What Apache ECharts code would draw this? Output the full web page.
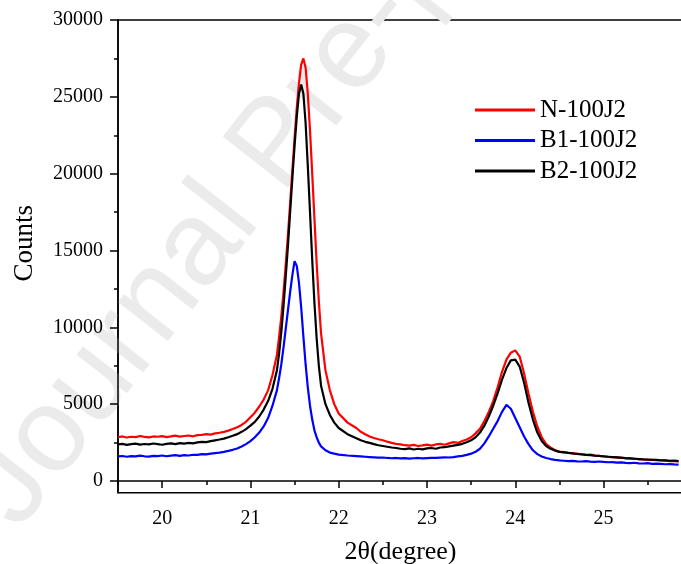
<!DOCTYPE html>
<html>
<head>
<meta charset="utf-8">
<script src="https://cdn.jsdelivr.net/npm/echarts@6/dist/echarts.min.js"></script>
<style>
html,body{margin:0;padding:0;background:#fff;}
#chart{width:681px;height:564px;}
</style>
</head>
<body>
<div id="chart"></div>
<script>
const twoTheta = [
19.5,19.55,19.6,19.65,19.7,19.75,19.8,19.85,19.9,19.95,20.0,20.05,20.1,20.15,20.2,20.25,20.3,20.35,20.4,20.45,20.5,20.55,20.6,20.65,20.7,20.75,20.8,20.85,20.9,20.95,
21.0,21.05,21.1,21.15,21.2,21.25,
21.3,21.325,21.35,21.375,21.4,21.425,21.45,21.475,21.5,21.525,21.55,21.575,21.6,21.625,21.65,21.675,21.7,21.725,21.75,21.775,21.8,
21.85,21.9,21.95,22.0,22.1,22.2,
22.25,22.3,22.35,22.4,22.45,22.5,22.55,22.6,22.65,22.7,22.75,22.8,22.85,22.9,22.95,23.0,23.05,23.1,23.15,23.2,23.25,23.3,23.35,23.4,23.45,23.5,
23.55,23.6,23.65,23.7,23.75,23.8,23.85,23.9,23.95,24.0,24.05,24.1,24.15,24.2,24.25,24.3,24.35,24.4,
24.45,24.5,24.55,24.6,24.65,24.7,24.75,24.8,24.85,24.9,24.95,25.0,25.05,25.1,25.15,25.2,25.25,25.3,25.35,25.4,25.45,25.5,25.55,25.6,25.65,25.7,25.75,25.8,25.85
];
const countsN = [
2850,2900,2830,2880,2860,2930,2870,2840,2900,2880,2920,2860,2900,2950,2890,2930,2960,2910,2990,3000,3050,3020,3100,3140,3200,3280,3380,3500,3650,3850,
4150,4450,4850,5300,5900,6900,
8200,9400,10700,12300,14100,16000,18100,20200,22300,24300,25900,27100,27500,26900,25200,22800,20000,17100,14200,11700,9600,
7200,5900,5000,4400,3800,3450,
3200,3050,2900,2800,2720,2650,2560,2480,2420,2380,2330,2300,2350,2280,2320,2370,2300,2380,2420,2360,2450,2530,2480,2600,2700,2850,
3100,3400,3900,4500,5200,6100,7100,7900,8350,8500,8100,7000,5700,4500,3550,2850,2400,2180,
2000,1920,1880,1840,1800,1780,1740,1700,1720,1660,1640,1610,1580,1560,1540,1500,1480,1470,1450,1420,1400,1380,1370,1360,1340,1330,1300,1290,1280
];
const countsB1 = [
1600,1630,1580,1620,1600,1650,1610,1590,1640,1620,1660,1610,1650,1680,1640,1690,1660,1710,1700,1750,1730,1780,1820,1850,1900,1960,2030,2120,2250,2400,
2600,2850,3150,3550,4100,4900,
5900,6700,7600,8700,9900,11100,12300,13400,14300,14000,12900,11300,9400,7600,6100,4900,4000,3300,2850,2500,2250,
2000,1850,1780,1720,1660,1620,
1600,1580,1560,1540,1520,1530,1500,1480,1500,1470,1490,1460,1480,1500,1470,1490,1510,1500,1520,1540,1530,1560,1600,1640,1700,1780,
1900,2100,2450,2900,3400,3900,4500,4950,4700,4100,3500,2900,2400,2000,1750,1600,1500,1430,
1380,1340,1320,1300,1310,1280,1270,1290,1260,1250,1270,1240,1220,1230,1200,1210,1180,1170,1190,1150,1140,1160,1120,1130,1110,1090,1100,1080,1070
];
const countsB2 = [
2380,2420,2350,2400,2430,2370,2410,2380,2440,2400,2360,2420,2450,2400,2470,2430,2480,2450,2510,2550,2530,2600,2650,2700,2760,2850,2950,3050,3200,3380,
3600,3850,4200,4650,5200,6000,
7200,8300,9700,11400,13300,15300,17500,19700,21800,23700,25200,25800,25200,23300,20500,17500,14400,11600,9300,7500,6200,
5000,4300,3800,3450,3050,2780,
2650,2550,2480,2400,2330,2280,2230,2180,2150,2100,2080,2120,2050,2100,2060,2120,2150,2100,2180,2200,2250,2300,2350,2420,2520,2650,
2850,3150,3600,4200,4900,5700,6600,7350,7850,7900,7450,6400,5100,4000,3150,2600,2280,2100,
1980,1900,1870,1830,1800,1760,1740,1700,1680,1650,1630,1600,1580,1560,1540,1520,1490,1470,1450,1430,1410,1400,1380,1370,1350,1340,1320,1330,1300
];
const seriesNames = ['N-100J2','B1-100J2','B2-100J2'];
const seriesColors = ['#ff0000','#0000ff','#000000'];
const yMajorTicks = [0,5000,10000,15000,20000,25000,30000];
const yMinorTicks = [2500,7500,12500,17500,22500,27500];
const xMajorTicks = [20,21,22,23,24,25];
const xMinorTicks = [19.5,20.5,21.5,22.5,23.5,24.5,25.5];

const zip = (xs, ys) => xs.map((x, i) => [x, ys[i]]);
const serif = 'Liberation Serif';
const X_MIN = 19.5, X_MAX = 25.9, Y_MIN = -760, Y_MAX = 30000;

const chart = echarts.init(document.getElementById('chart'), null, {renderer: 'canvas'});
const axisLineStyle = {color: '#000', width: 1.5};
chart.setOption({
  backgroundColor: '#fff',
  animation: false,
  graphic: [{
    type: 'text',
    x: 40, y: 548,
    rotation: 0.907,
    z: 0,
    silent: true,
    style: {
      text: 'Journal Pre-proof',
      fontSize: 120,
      fontFamily: 'Liberation Sans',
      fill: '#ebebeb',
      textAlign: 'left',
      textVerticalAlign: 'bottom'
    }
  }],
  grid: {
    left: 118, top: 20, width: 565, height: 472.7,
    outerBoundsMode: 'none', containLabel: false,
    show: true, borderColor: '#000', borderWidth: 1.5, backgroundColor: 'transparent'
  },
  legend: {
    orient: 'vertical',
    left: 475, top: 97.5, padding: 0,
    itemWidth: 60, itemHeight: 3, itemGap: 5.5,
    icon: 'rect',
    data: seriesNames,
    textStyle: {fontFamily: serif, fontSize: 25, color: '#000'}
  },
  xAxis: [{
    type: 'value', min: X_MIN, max: X_MAX,
    name: '2θ(degree)', nameLocation: 'middle', nameGap: 46,
    nameTextStyle: {fontFamily: serif, fontSize: 26, color: '#000'},
    axisLine: {show: true, lineStyle: axisLineStyle},
    axisTick: {show: true, inside: false, length: 7, customValues: xMajorTicks, lineStyle: axisLineStyle},
    axisLabel: {show: true, customValues: xMajorTicks, margin: 16, fontFamily: serif, fontSize: 20, color: '#000'},
    splitLine: {show: false}
  }, {
    type: 'value', min: X_MIN, max: X_MAX, position: 'bottom',
    axisLine: {show: false},
    axisTick: {show: true, inside: false, length: 4, customValues: xMinorTicks, lineStyle: axisLineStyle},
    axisLabel: {show: false},
    splitLine: {show: false}
  }],
  yAxis: [{
    type: 'value', min: Y_MIN, max: Y_MAX,
    name: 'Counts', nameLocation: 'middle', nameGap: 80, nameRotate: 90,
    nameTextStyle: {fontFamily: serif, fontSize: 27, color: '#000', padding: [0, 0, 0, 26]},
    axisLine: {show: true, lineStyle: axisLineStyle},
    axisTick: {show: true, inside: false, length: 8, customValues: yMajorTicks, lineStyle: axisLineStyle},
    axisLabel: {show: true, customValues: yMajorTicks, margin: 15, fontFamily: serif, fontSize: 20, color: '#000',
      formatter: (v) => String(Math.round(v))},
    splitLine: {show: false}
  }, {
    type: 'value', min: Y_MIN, max: Y_MAX, position: 'left',
    axisLine: {show: false},
    axisTick: {show: true, inside: false, length: 4, customValues: yMinorTicks, lineStyle: axisLineStyle},
    axisLabel: {show: false},
    splitLine: {show: false}
  }],
  series: [
    {name: seriesNames[0], type: 'line', data: zip(twoTheta, countsN), showSymbol: false, symbol: 'none', lineStyle: {width: 2.2, color: seriesColors[0]}, itemStyle: {color: seriesColors[0]}, z: 3},
    {name: seriesNames[1], type: 'line', data: zip(twoTheta, countsB1), showSymbol: false, symbol: 'none', lineStyle: {width: 2.2, color: seriesColors[1]}, itemStyle: {color: seriesColors[1]}, z: 4},
    {name: seriesNames[2], type: 'line', data: zip(twoTheta, countsB2), showSymbol: false, symbol: 'none', lineStyle: {width: 2.2, color: seriesColors[2]}, itemStyle: {color: seriesColors[2]}, z: 5}
  ]
});
</script>
</body>
</html>
